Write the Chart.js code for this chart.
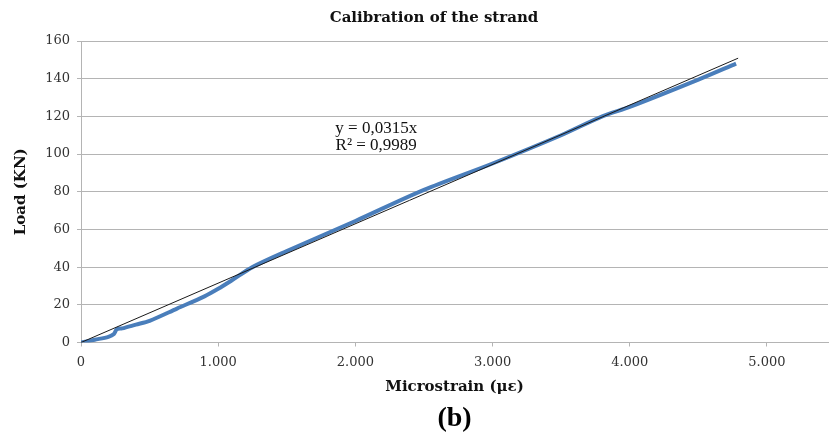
<!DOCTYPE html>
<html>
<head>
<meta charset="utf-8">
<script src="https://cdn.jsdelivr.net/npm/chart.js@4"></script>
<style>
  html, body { margin: 0; padding: 0; background: #fff; }
  #wrap { width: 829px; height: 433px; }
</style>
</head>
<body>
<div id="wrap"><canvas id="strandChart" width="829" height="433"></canvas></div>
<script>
// strand calibration: measured load against gauge microstrain
const strain = [0, 100, 200, 240, 260, 300, 400, 500, 700, 900, 1000, 1100, 1250, 1500, 2000, 2500, 3000, 3500, 3800, 4000, 4500, 4775]
const load = [0, 1.5, 3, 4.5, 7, 7.5, 9.5, 11.5, 18, 24.5, 28.5, 33, 40, 48.5, 64.5, 81, 95, 110, 120, 125, 139.5, 148]

// linear trendline through the origin, as given by the fit equation
const fitSlope = 0.0315
const fitRange = [0, 4790]
const fitLabels = ["y = 0,0315x", "R² = 0,9989"]

const xTicks = [0, 1000, 2000, 3000, 4000, 5000]

const serif = "'DejaVu Serif', 'Liberation Serif', serif"

function thousands(v) {
  return String(v).replace(/\B(?=(\d{3})+(?!\d))/g, ".")
}

// chart heading plus the fit equation next to the trendline
const chartText = {
  id: "chartText",
  afterDatasetsDraw(chart) {
    const ctx = chart.ctx
    const xs = chart.scales.x, ys = chart.scales.y
    ctx.save()
    ctx.textAlign = "center"
    ctx.textBaseline = "middle"

    ctx.fillStyle = "#111"
    ctx.font = "bold 15px " + serif
    ctx.fillText("Calibration of the strand", chart.chartArea.left + 353, 18)

    ctx.font = "17px 'Liberation Serif', serif"
    ctx.fillText(fitLabels[0], xs.getPixelForValue(2152), ys.getPixelForValue(113.8))
    ctx.fillText(fitLabels[1], xs.getPixelForValue(2152), ys.getPixelForValue(104.3))
    ctx.restore()
  }
}

const ctx = document.getElementById("strandChart").getContext("2d")
const strandChart = new Chart(ctx, {
  type: "scatter",
  data: {
    datasets: [
      {
        label: "Load",
        data: strain.map((s, i) => ({ x: s, y: load[i] })),
        showLine: true,
        borderColor: "#4a7ebb",
        borderWidth: 4,
        pointRadius: 0,
        tension: 0.3,
        order: 2
      },
      {
        label: "Linear fit",
        data: fitRange.map(s => ({ x: s, y: fitSlope * s })),
        showLine: true,
        borderColor: "#1a1a1a",
        borderWidth: 1,
        pointRadius: 0,
        order: 1
      }
    ]
  },
  options: {
    responsive: false,
    animation: false,
    layout: { padding: { left: 0, right: 1, top: 41, bottom: 0 } },
    plugins: {
      legend: { display: false },
      tooltip: { enabled: false },
      title: { display: false },
      subtitle: {
        display: true,
        position: "bottom",
        fullSize: false,
        text: "(b)",
        color: "#000",
        font: { family: "'Liberation Serif', serif", size: 28, weight: "bold", lineHeight: 1 },
        padding: { top: 8.5, bottom: 0 }
      }
    },
    scales: {
      x: {
        type: "linear",
        min: 0,
        max: 5445,
        afterFit(scale) { scale.height = 54 },
        afterBuildTicks(scale) { scale.ticks = xTicks.map(v => ({ value: v })) },
        ticks: {
          includeBounds: false,
          padding: 8,
          color: "#333",
          font: { family: serif, size: 13 },
          callback: v => thousands(v)
        },
        grid: { drawOnChartArea: false, drawTicks: true, tickLength: 4, color: "#b4b4b4" },
        border: { color: "#b4b4b4" },
        title: {
          display: true,
          text: "Microstrain (με)",
          color: "#111",
          font: { family: serif, size: 15, weight: "bold" },
          padding: { top: 0, bottom: 0 }
        }
      },
      y: {
        min: 0,
        max: 160,
        afterFit(scale) { scale.width = 81 },
        ticks: {
          stepSize: 20,
          padding: 7,
          color: "#333",
          font: { family: serif, size: 13 }
        },
        grid: { color: "#b4b4b4", tickLength: 4 },
        border: { color: "#b4b4b4" },
        title: {
          display: true,
          text: "Load (KN)",
          color: "#111",
          font: { family: serif, size: 15, weight: "bold" },
          padding: { top: 12, bottom: 12 }
        }
      }
    }
  },
  plugins: [chartText]
})
</script>
</body>
</html>
